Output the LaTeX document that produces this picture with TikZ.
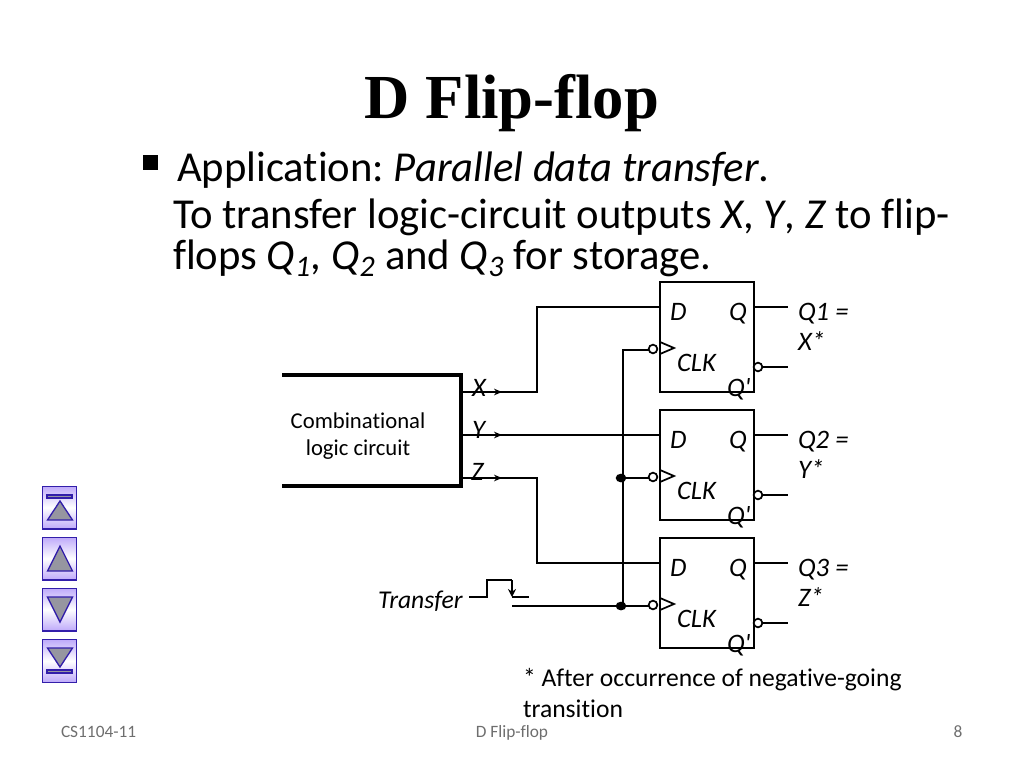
\documentclass[tikz,border=0pt]{standalone}
\usepackage{fontspec}
\setmainfont[Ligatures={TeXOff,NoCommon}]{Carlito}
\newfontfamily\titlefont{Liberation Serif}
\usetikzlibrary{arrows.meta,calc,shapes.geometric}
\frenchspacing
\definecolor{navedge}{RGB}{50,30,170}
\definecolor{navfill}{RGB}{190,170,250}
\definecolor{navgrey}{RGB}{150,150,160}
\definecolor{footgrey}{RGB}{110,110,110}
\tikzset{
  ff/.style={draw,line width=1.9pt,minimum width=70.5pt,minimum height=82.5pt,inner sep=0pt,outer sep=0pt},
  wire/.style={line width=1.3pt,line join=miter},
  thick wire/.style={line width=2.4pt},
  bubble/.style={circle,draw,fill=white,line width=1.3pt,minimum size=6.5pt,inner sep=0pt,outer sep=0pt},
  dotnode/.style={ellipse,fill=black,minimum width=8pt,minimum height=6.5pt,inner sep=0pt,outer sep=0pt},
  lab/.style={inner sep=0pt,outer sep=0pt,anchor=base west,font=\fontsize{20pt}{24pt}\selectfont\itshape},
  body/.style={inner sep=0pt,outer sep=0pt,anchor=base west,font=\fontsize{32pt}{38pt}\selectfont},
  note/.style={inner sep=0pt,outer sep=0pt,anchor=base west,font=\fontsize{19.2pt}{23pt}\selectfont},
  foot/.style={inner sep=0pt,outer sep=0pt,text=footgrey,font=\fontsize{13pt}{15pt}\selectfont},
  navbox/.style={draw=navedge,line width=1pt,minimum width=25.5pt,minimum height=32pt,inner sep=0pt,outer sep=0pt,top color=navfill,bottom color=navfill,middle color=white},
  navmark/.style={draw=navedge,line width=1pt,fill=navgrey,line join=miter},
  midtip/.style={-{Stealth[length=6pt,width=5pt]}},
}
\begin{document}
\begin{tikzpicture}[x=0.75pt,y=-0.75pt]
\useasboundingbox (0,0) rectangle (1024,768);
% title and body
\node[inner sep=0pt,font=\fontsize{47pt}{50pt}\selectfont\bfseries\titlefont,anchor=base] (title) at (512,118) {D Flip-flop};
\fill (143,155) rectangle (158,170);
\node[body] (l1) at (177,181) {Application: \textit{Parallel data transfer}.};
\node[body] (l2) at (173,228) {To transfer logic-circuit outputs \textit{X}, \textit{Y}, \textit{Z} to flip-};
\node[body] (l3) at (173,269) {flops \textit{Q\textsubscript{1}}, \textit{Q\textsubscript{2}} and \textit{Q\textsubscript{3}} for storage.};
% flip-flops
\node[ff] (ff1) at (707,337) {};
\node[ff] (ff2) at (707,465) {};
\node[ff] (ff3) at (707,593) {};
\foreach \i/\yq/\yc/\toptxt/\bottxt in {1/307/349/Q1 =/X*,2/435/477/Q2 =/Y*,3/563/605/Q3 =/Z*}{
  \coordinate (d\i) at (660,\yq);
  \coordinate (q\i) at (754,\yq);
  \coordinate (qe\i) at (788,\yq);
  \coordinate (nq\i) at (788,\yq+60);
  \node[bubble] (nb\i) at (758,\yq+60) {};
  \node[bubble] (cb\i) at (653,\yc) {};
  \draw[wire] (q\i) -- (qe\i);
  \draw[wire] (nb\i) -- (nq\i);
  \draw[wire,line join=miter] (660,\yc-7) -- (674,\yc-1) -- (660,\yc+5);
  \node[lab] (dl\i) at (670,\yq+13) {D};
  \node[lab] (ql\i) at (729,\yq+13) {Q};
  \node[lab] (cl\i) at (677,\yq+64) {CLK};
  \node[lab] (nl\i) at (727,\yq+89) {Q'};
  \node[lab] (o\i) at (798,\yq+13) {\toptxt};
  \node[lab] (p\i) at (798,\yq+43) {\bottxt};
}
% combinational block
\coordinate (cbtl) at (282,375);
\coordinate (cbtr) at (461,375);
\coordinate (cbbl) at (282,486);
\coordinate (cbbr) at (461,486);
\draw[thick wire,line join=miter] (cbtl) -- (cbtr) -- (cbbr) -- (cbbl);
\node[inner sep=0pt,align=center,font=\fontsize{17pt}{20.3pt}\selectfont] (comb) at (358,436) {Combinational\\logic circuit};
% outputs
\coordinate (xo) at (461,392);
\coordinate (yo) at (461,435);
\coordinate (zo) at (461,478);
\coordinate (xa) at (502,392);
\coordinate (ya) at (502,435);
\coordinate (za) at (502,478);
\draw[wire] (xo) -- (537,392) -- (537,307) -- (d1);
\draw[wire] (yo) -- (d2);
\draw[wire] (zo) -- (537,478) -- (537,563) -- (d3);
\foreach \n in {xa,ya,za}{\draw[wire,midtip] ($(\n)+(-8,0)$) -- (\n);}
\node[lab] (xl) at (472,396) {X};
\node[lab] (yl) at (472,438) {Y};
\node[lab] (zl) at (471,480) {Z};
% clock
\coordinate (ck) at (623,350);
\node[dotnode] (j2) at (621,478) {};
\node[dotnode] (j3) at (621,606) {};
\coordinate (tr) at (512,606);
\draw[wire] (ck -| cb1.west) -- (ck) -- (623,606);
\draw[wire] (j2) -- (j2 -| cb2.west);
\draw[wire] (tr) -- (tr -| cb3.west);
% pulse
\coordinate (p0) at (469,597);
\coordinate (pt) at (512,580);
\coordinate (pb) at (512,597);
\coordinate (pe) at (529,597);
\draw[wire] (p0) -- (487,597) -- (487,580) -- (pt);
\draw[wire,-{Stealth[length=6pt,width=6pt]}] (pt) -- (pb);
\draw[wire] (pb) -- (pe);
\node[lab,font=\fontsize{19.2pt}{22pt}\selectfont\itshape] (trans) at (378,608) {Transfer};
\node[note] (n1) at (523,686) {* After occurrence of negative-going};
\node[note] (n2) at (523,717) {transition};
% nav
\node[navbox] (nav1) at (59.5,507.5) {};
\node[navbox] (nav2) at (59.5,558.5) {};
\node[navbox] (nav3) at (59.5,609.5) {};
\node[navbox] (nav4) at (59.5,661) {};
\draw[navmark] (47,495) rectangle (72,498);
\draw[navmark] (60,501) -- (72.5,520) -- (47.5,520) -- cycle;
\draw[navmark] (60,546) -- (72.5,571) -- (47.5,571) -- cycle;
\draw[navmark] (47.5,597) -- (72.5,597) -- (60,622) -- cycle;
\draw[navmark] (47.5,648) -- (72.5,648) -- (60,667) -- cycle;
\draw[navmark] (47,670) rectangle (72,673);
% footer
\node[foot,anchor=base west] (f1) at (61,737) {CS1104-11};
\node[foot,anchor=base] (f2) at (512,737) {D Flip-flop};
\node[foot,anchor=base] (f3) at (958,737) {8};
\end{tikzpicture}
\end{document}
